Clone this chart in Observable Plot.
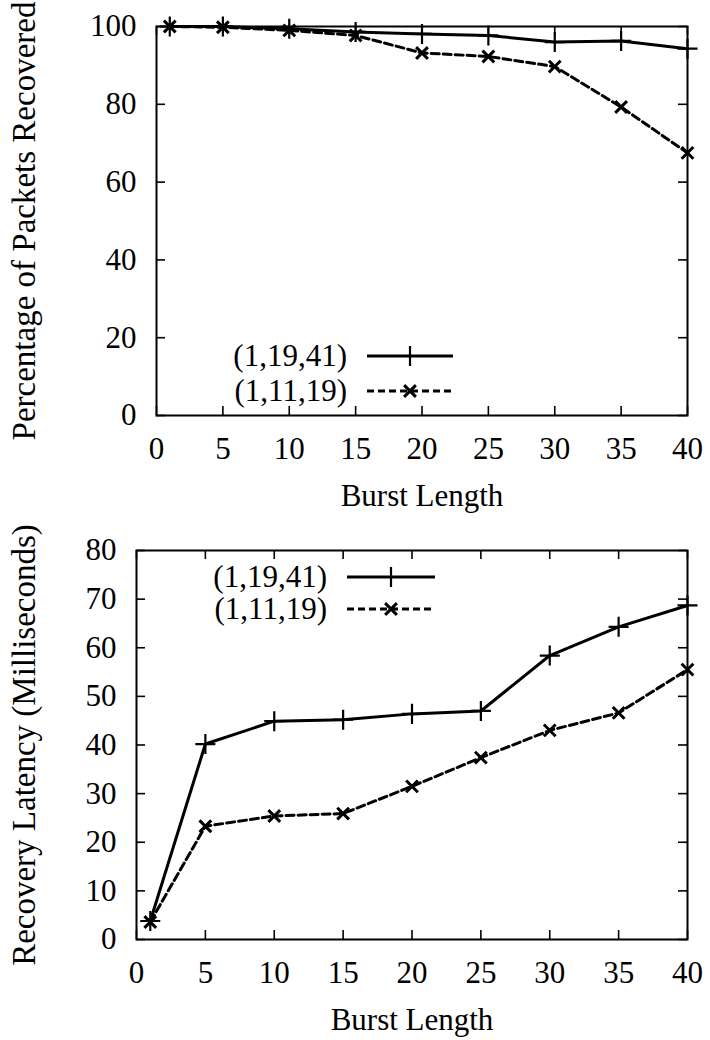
<!DOCTYPE html>
<html>
<head>
<meta charset="utf-8">
<script src="https://cdn.jsdelivr.net/npm/d3@7"></script>
<script src="https://cdn.jsdelivr.net/npm/@observablehq/plot@0.6"></script>
<style>
  html, body { margin: 0; padding: 0; background: white; }
  #wrap { position: relative; width: 710px; height: 1040px; overflow: hidden; }
  #wrap svg { display: block; }
  .legend { position: absolute; left: 0; top: 0; pointer-events: none; }
</style>
</head>
<body>
<div id="wrap"></div>
<script>
// ---- data ----
const burstLength = [1, 5, 10, 15, 20, 25, 30, 35, 40];
const seriesNames = ["(1,19,41)", "(1,11,19)"];
const recovered_1_19_41 = [100, 100, 99.4, 98.6, 98.1, 97.7, 96.0, 96.3, 94.3];
const recovered_1_11_19 = [100, 99.8, 99.0, 97.7, 93.2, 92.3, 89.7, 79.3, 67.5];
const latency_1_19_41 = [3.8, 40.2, 44.9, 45.2, 46.4, 47.0, 58.4, 64.3, 68.7];
const latency_1_11_19 = [3.6, 23.3, 25.4, 25.9, 31.5, 37.4, 43.0, 46.6, 55.5];
const xTicks = [0, 5, 10, 15, 20, 25, 30, 35, 40];
const yTicksTop = [0, 20, 40, 60, 80, 100];
const yTicksBottom = [0, 10, 20, 30, 40, 50, 60, 70, 80];
const xTitle = "Burst Length";
const yTitleTop = "Percentage of Packets Recovered";
const yTitleBottom = "Recovery Latency (Milliseconds)";

const FONT = "'Liberation Serif', 'Times New Roman', serif";
const W = 710;

function rows(ys, name) {
  return burstLength.map((x, i) => ({x, y: ys[i], series: name}));
}

function makeChart({height, mt, mb, ml, mr, yDomain, yTicks, yTitle, yLabelOffset, a, b}) {
  const innerH = height - mt - mb;
  const innerW = W - ml - mr;
  const tick = 9;
  const dA = rows(a, seriesNames[0]);
  const dB = rows(b, seriesNames[1]);
  return Plot.plot({
    width: W,
    height,
    marginTop: mt, marginBottom: mb, marginLeft: ml, marginRight: mr,
    style: {fontFamily: FONT, fontSize: "31px", color: "black", background: "white", overflow: "visible"},
    x: {domain: [0, 40]},
    y: {domain: yDomain},
    marks: [
      // inward ticks on all four sides
      Plot.tickX(xTicks, {x: d => d, insetTop: innerH - tick, stroke: "black", strokeWidth: 1.6}),
      Plot.tickX(xTicks, {x: d => d, insetBottom: innerH - tick, stroke: "black", strokeWidth: 1.6}),
      Plot.tickY(yTicks, {y: d => d, insetRight: innerW - tick, stroke: "black", strokeWidth: 1.6}),
      Plot.tickY(yTicks, {y: d => d, insetLeft: innerW - tick, stroke: "black", strokeWidth: 1.6}),
      Plot.axisX({ticks: xTicks, tickSize: 0, tickPadding: 21, label: xTitle, labelAnchor: "center", labelOffset: 90, labelArrow: "none"}),
      Plot.axisY({ticks: yTicks, tickSize: 0, tickPadding: 20, label: null}),
      Plot.axisY({ticks: [], tickSize: 0, label: yTitle, labelAnchor: "center", labelOffset: yLabelOffset, labelArrow: "none", fontSize: 33}),
      Plot.line(dA, {x: "x", y: "y", stroke: "black", strokeWidth: 3}),
      Plot.line(dB, {x: "x", y: "y", stroke: "black", strokeWidth: 3, strokeDasharray: "8,4"}),
      Plot.dot(dA, {x: "x", y: "y", symbol: "plus", r: 6.5, stroke: "black", strokeWidth: 2.2}),
      Plot.dot(dB, {x: "x", y: "y", symbol: "times", r: 5.4, stroke: "black", strokeWidth: 3}),
      Plot.frame({stroke: "black", strokeWidth: 2})
    ]
  });
}

const wrap = document.getElementById("wrap");
wrap.appendChild(makeChart({
  height: 520, mt: 26, mb: 105, ml: 156, mr: 23,
  yDomain: [0, 100], yTicks: yTicksTop, yTitle: yTitleTop, yLabelOffset: 145,
  a: recovered_1_19_41, b: recovered_1_11_19
}));
wrap.appendChild(makeChart({
  height: 520, mt: 30, mb: 101, ml: 136, mr: 23,
  yDomain: [0, 80], yTicks: yTicksBottom, yTitle: yTitleBottom, yLabelOffset: 125,
  a: latency_1_19_41, b: latency_1_11_19
}));

// ---- legends (overlay) ----
const legend = d3.select(wrap).append("svg")
  .attr("class", "legend").attr("width", W).attr("height", 1040)
  .style("font-family", FONT).style("font-size", "31px");

function drawLegend(textRight, lineX1, lineX2, markX, rowYs) {
  seriesNames.forEach((name, i) => {
    const y = rowYs[i];
    legend.append("text").attr("x", textRight).attr("y", y).attr("dy", "0.32em")
      .attr("text-anchor", "end").attr("fill", "black").text(name);
    legend.append("line").attr("x1", lineX1).attr("x2", lineX2).attr("y1", y).attr("y2", y)
      .attr("stroke", "black").attr("stroke-width", 3)
      .attr("stroke-dasharray", i === 0 ? null : "7,4");
    const sym = i === 0 ? d3.symbolPlus : d3.symbolTimes;
    const r = i === 0 ? 6.5 : 5.4;
    legend.append("path").attr("d", d3.symbol(sym, Math.PI * r * r)())
      .attr("transform", `translate(${markX},${y})`)
      .attr("fill", "none").attr("stroke", "black").attr("stroke-width", i === 0 ? 2.2 : 3);
  });
}
drawLegend(347, 367, 453, 410, [356, 391]);
drawLegend(327, 347, 435, 391, [577, 609]);
</script>
</body>
</html>
